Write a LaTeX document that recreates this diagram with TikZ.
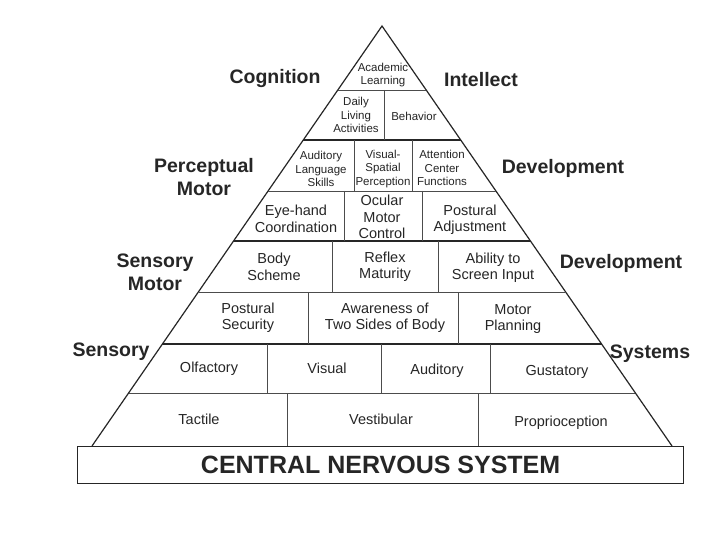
\documentclass[tikz,border=0pt]{standalone}
\usepackage{fontspec}
\setmainfont{Liberation Sans}
\usetikzlibrary{calc}

\begin{document}
\begin{tikzpicture}[x=1pt, y=-1pt,
    cell/.style={align=center, inner sep=0pt, font=\fontsize{14.5}{16.5}\selectfont, text=black!85},
    onecell/.style={cell, text height=10.5pt, text depth=3pt},
    smallcell/.style={align=center, inner sep=0pt, font=\fontsize{11.5}{13.5}\selectfont, text=black!85},
    side/.style={align=center, inner sep=0pt, font=\fontsize{19.5}{23}\selectfont\bfseries, text=black!85},
    divider/.style={black!70, line width=0.8pt},
    band/.style={black!85, line width=2.6pt}]
    \useasboundingbox (0,0) rectangle (720,540);
    \fill[white] (0,0) rectangle (720,540);

    % --- Pyramid outline ---
    \coordinate (apex) at (382,26);
    \coordinate (bl) at (92,446);
    \coordinate (br) at (672,446);
    \draw[line width=1.2pt, black!85] (bl) -- (apex) -- (br);

    % --- Row lines (thin and thick bands) ---
    \foreach \y/\w in {90/divider, 191/divider, 292/divider, 393/divider, 140/band, 241/band, 344/band} {
        \pgfmathsetmacro\hw{0.690476*(\y-26)}
        \draw[\w] (382-\hw,\y) -- (382+\hw,\y);
    }

    % --- Cell dividers ---
    \foreach \x/\ya/\yb in {384/90/140, 354/140/191, 412/140/191, 344/191/241, 422/191/241,
        332/241/292, 438/241/292, 308/292/344, 458/292/344,
        267/344/393, 381/344/393, 490/344/393, 287/393/446, 478/393/446}
        \draw[divider] (\x,\ya) -- (\x,\yb);

    % --- Central nervous system box ---
    \node[draw, line width=1.2pt, black!85, minimum width=606pt, minimum height=37pt, inner sep=0pt,
        anchor=north west, font=\fontsize{25}{28}\selectfont\bfseries] (cns) at (77,446) {CENTRAL NERVOUS SYSTEM};

    % --- Cells, top to bottom ---
    \node[smallcell] (academic) at (383,75) {Academic\\Learning};
    \node[smallcell] (daily) at (356,115) {Daily\\Living\\Activities};
    \node[smallcell] (behavior) at (414,116) {Behavior};
    \node[smallcell] (auditorylang) at (321,169) {Auditory\\Language\\Skills};
    \node[smallcell] (visualspatial) at (383,169) {Visual-\\Spatial\\Perception};
    \node[smallcell] (attention) at (442,168) {Attention\\Center\\Functions};
    \node[cell] (eyehand) at (296,219) {Eye-hand\\Coordination};
    \node[cell] (ocular) at (382,217) {Ocular\\Motor\\Control};
    \node[cell] (posturaladj) at (470,220) {Postural\\Adjustment};
    \node[cell] (bodyscheme) at (274,267) {Body\\Scheme};
    \node[cell] (reflex) at (385,267) {Reflex\\Maturity};
    \node[cell] (screen) at (493,268) {Ability to\\Screen Input};
    \node[cell] (posturalsec) at (248,318) {Postural\\Security};
    \node[cell] (awareness) at (385,318) {Awareness of\\Two Sides of Body};
    \node[cell] (motorplan) at (513,319) {Motor\\Planning};
    \node[onecell] (olfactory) at (209,369) {Olfactory};
    \node[onecell] (visual) at (327,370) {Visual};
    \node[onecell] (auditory) at (437,371) {Auditory};
    \node[onecell] (gustatory) at (557,372) {Gustatory};
    \node[onecell] (tactile) at (199,421) {Tactile};
    \node[onecell] (vestibular) at (381,421) {Vestibular};
    \node[onecell] (proprio) at (561,423) {Proprioception};

    % --- Side labels ---
    \node[side] (cognition) at (275,79) {Cognition};
    \node[side] (intellect) at (481,80) {Intellect};
    \node[side] (perceptual) at (204,177) {Perceptual\\Motor};
    \node[side] (devupper) at (563,168) {Development};
    \node[side] (sensorymotor) at (155,272) {Sensory\\Motor};
    \node[side] (devlower) at (621,263) {Development};
    \node[side] (sensory) at (111,352) {Sensory};
    \node[side] (systems) at (650,354) {Systems};
\end{tikzpicture}
\end{document}
